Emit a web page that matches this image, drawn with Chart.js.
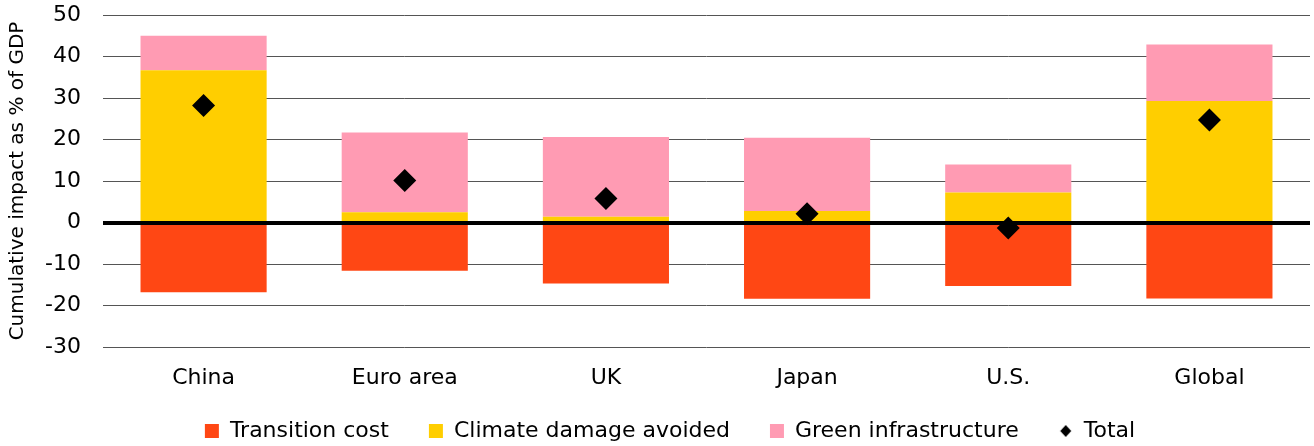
<!DOCTYPE html>
<html>
<head>
<meta charset="utf-8">
<script src="https://cdn.jsdelivr.net/npm/chart.js@4/dist/chart.umd.min.js"></script>
<style>
  html, body { margin: 0; padding: 0; background: #fff; }
  #wrap { width: 1314px; height: 446px; }
</style>
</head>
<body>
<div id="wrap"><canvas id="c" width="1314" height="446"></canvas></div>
<script>
// Cumulative impact by region, % of GDP
const regions = ['China', 'Euro area', 'UK', 'Japan', 'U.S.', 'Global'];
const transitionCost = [-16.8, -11.6, -14.7, -18.4, -15.3, -18.3];
const climateDamageAvoided = [36.7, 2.5, 1.4, 2.8, 7.2, 29.3];
const greenInfrastructure = [8.3, 19.2, 19.2, 17.6, 6.8, 13.6];
const total = [28.2, 10.1, 5.8, 2.1, -1.3, 24.7];
const yTickValues = [50, 40, 30, 20, 10, 0, -10, -20, -30];

const FONT = 'DejaVu Sans';
const LEGEND_TEXT_Y = 431;
const LEGEND_SHIFT_X = 15;
const LEGEND_HEIGHT = 55;

// small diamond used as the legend marker for the total
const diamond = document.createElement('canvas');
diamond.width = 14; diamond.height = 14;
(() => {
  const g = diamond.getContext('2d');
  g.fillStyle = '#000';
  g.beginPath();
  g.moveTo(7, 1); g.lineTo(12.5, 7); g.lineTo(7, 13); g.lineTo(1.5, 7);
  g.closePath(); g.fill();
})();

// heavy zero line drawn over the bars but under the total markers
const zeroLine = {
  id: 'zeroLine',
  beforeDatasetDraw(chart, args) {
    if (args.index !== 3) return;
    const { ctx, chartArea, scales } = chart;
    const y = Math.round(scales.y.getPixelForValue(0));
    ctx.save();
    ctx.strokeStyle = '#000';
    ctx.lineWidth = 4;
    ctx.beginPath();
    ctx.moveTo(chartArea.left, y);
    ctx.lineTo(chartArea.right, y);
    ctx.stroke();
    ctx.restore();
  }
};

// keep the legend compact vertically while its items stay widely spaced
const legendPlacement = {
  id: 'legendPlacement',
  afterLayout(chart) {
    const lg = chart.legend;
    if (!lg) return;
    const pad = lg.options.labels.padding;
    const itemH = Math.max(lg.options.labels.font.size, lg.options.labels.boxHeight);
    lg.top = LEGEND_TEXT_Y - pad - itemH / 2;
    lg.bottom = chart.height;
    lg.left += LEGEND_SHIFT_X;
    lg.right += LEGEND_SHIFT_X;
  }
};

new Chart(document.getElementById('c'), {
  data: {
    labels: regions,
    datasets: [
      { type: 'bar', label: 'Transition cost', data: transitionCost, backgroundColor: '#FF4714', order: 1 },
      { type: 'bar', label: 'Climate damage avoided', data: climateDamageAvoided, backgroundColor: '#FFCE00', order: 1 },
      { type: 'bar', label: 'Green infrastructure', data: greenInfrastructure, backgroundColor: '#FF9BB3', order: 1 },
      { type: 'line', label: 'Total', data: total, showLine: false, pointStyle: 'rectRot',
        pointRadius: 11.5, pointHoverRadius: 11.5, backgroundColor: '#000', borderColor: '#000',
        pointBorderWidth: 0, order: 0 }
    ]
  },
  options: {
    responsive: false,
    devicePixelRatio: 1,
    animation: false,
    datasets: { bar: { categoryPercentage: 1, barPercentage: 0.627, borderWidth: 0 } },
    layout: { autoPadding: false, padding: { top: 0, right: 4, left: 0, bottom: 0 } },
    scales: {
      x: {
        stacked: true,
        grid: { display: false, drawTicks: false },
        border: { display: false },
        ticks: { color: '#000', font: { family: FONT, size: 22 }, padding: 18 },
        afterFit(scale) { scale.height = 44; }
      },
      y: {
        stacked: true,
        min: -30, max: 50,
        afterBuildTicks(scale) { scale.ticks = yTickValues.map(v => ({ value: v })); },
        afterFit(scale) { scale.width = 103; scale.paddingTop = 15; scale.paddingBottom = 0; },
        grid: { color: '#555', lineWidth: 1, drawTicks: false },
        border: { display: false },
        ticks: { color: '#000', font: { family: FONT, size: 22 }, padding: 22 },
        title: { display: true, text: 'Cumulative impact as % of GDP', color: '#000',
                 font: { family: FONT, size: 20 }, padding: { top: 6, bottom: 4 } }
      }
    },
    plugins: {
      tooltip: { enabled: false },
      legend: {
        position: 'bottom',
        maxHeight: LEGEND_HEIGHT,
        labels: {
          color: '#000',
          font: { family: FONT, size: 22 },
          usePointStyle: true,
          boxWidth: 14, boxHeight: 14,
          padding: 40,
          sort: (a, b) => a.datasetIndex - b.datasetIndex,
          generateLabels(chart) {
            return chart.data.datasets.map((ds, i) => ({
              text: ds.label,
              fillStyle: ds.backgroundColor,
              strokeStyle: ds.backgroundColor,
              lineWidth: 0,
              pointStyle: ds.type === 'line' ? diamond : 'rect',
              datasetIndex: i,
              hidden: false
            }));
          }
        }
      }
    }
  },
  plugins: [zeroLine, legendPlacement]
});
</script>
</body>
</html>
